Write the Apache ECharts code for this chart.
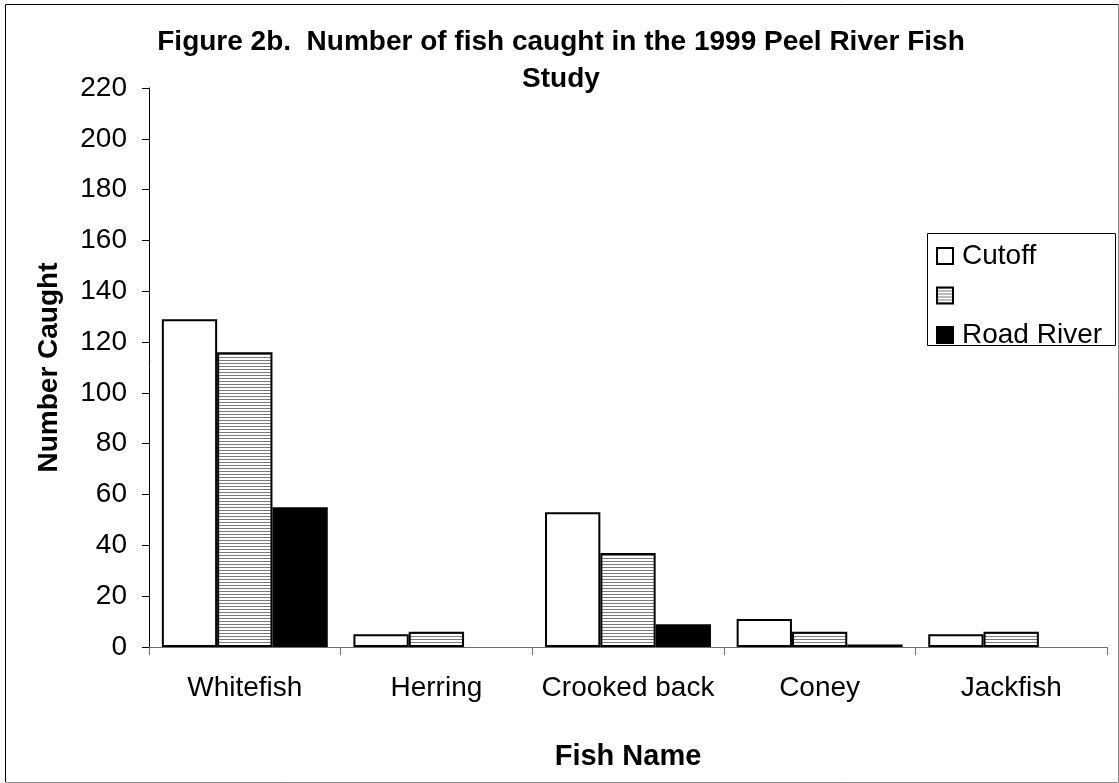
<!DOCTYPE html>
<html>
<head>
<meta charset="utf-8">
<script src="https://cdn.jsdelivr.net/npm/echarts@6/dist/echarts.min.js"></script>
<style>
  html, body { margin: 0; padding: 0; background: #fff; }
  #chart { width: 1119px; height: 783px; }
</style>
</head>
<body>
<div id="chart"></div>
<script>
// Fish caught per species at each sampling site, 1999 Peel River study
const categories = ['Whitefish', 'Herring', 'Crooked back', 'Coney', 'Jackfish'];
const cutoff = [129, 5, 53, 11, 5];
const secondSite = [116, 6, 37, 6, 6];
const roadRiver = [55, 0, 9, 1, 0];

const yMin = 0;
const yMax = 220;
const yStep = 20;

const FONT = '"Liberation Sans", Arial, sans-serif';

// horizontal line hatch used for the unlabelled site
function hatch() {
  const c = document.createElement('canvas');
  c.width = 4; c.height = 3;
  const g = c.getContext('2d');
  g.fillStyle = '#ffffff';
  g.fillRect(0, 0, 4, 3);
  g.fillStyle = '#7a7a7a';
  g.fillRect(0, 0, 4, 1);
  return c;
}

// empty counts get no outline so nothing is drawn on the baseline
function withOutline(values) {
  return values.map(v => v === 0 ? { value: v, itemStyle: { borderWidth: 0 } } : v);
}

const chart = echarts.init(document.getElementById('chart'), null, { renderer: 'canvas' });

const barBase = { type: 'bar', barGap: '0%', barCategoryGap: '13.4%' };

chart.setOption({
  animation: false,
  backgroundColor: '#ffffff',
  title: {
    text: 'Figure 2b.  Number of fish caught in the 1999 Peel River Fish\nStudy',
    left: 561, top: 24, textAlign: 'center', padding: 0,
    textStyle: { fontFamily: FONT, fontSize: 28, fontWeight: 'bold', color: '#000', lineHeight: 37 }
  },
  grid: { left: 149, right: 12, top: 88, bottom: 136, containLabel: false },
  legend: {
    orient: 'vertical', left: 936, top: 242, padding: 0,
    itemWidth: 16, itemHeight: 16, itemGap: 11.5,
    icon: 'rect',
    textStyle: { fontFamily: FONT, fontSize: 28, color: '#000', padding: [0, 0, 0, 4] },
    data: ['Cutoff', ' ', 'Road River']
  },
  xAxis: {
    type: 'category', data: categories,
    name: 'Fish Name', nameLocation: 'middle', nameGap: 95,
    nameTextStyle: { fontFamily: FONT, fontSize: 29, fontWeight: 'bold', color: '#000' },
    axisLine: { lineStyle: { color: '#6e6e6e', width: 1 } },
    axisTick: { show: true, inside: false, length: 8, alignWithLabel: false, lineStyle: { color: '#6e6e6e' } },
    axisLabel: { fontFamily: FONT, fontSize: 28, color: '#000', margin: 27, interval: 0 },
    splitLine: { show: false }
  },
  yAxis: {
    type: 'value', min: yMin, max: yMax, interval: yStep,
    name: 'Number Caught', nameLocation: 'middle', nameGap: 86, nameRotate: 90,
    nameTextStyle: { fontFamily: FONT, fontSize: 28, fontWeight: 'bold', color: '#000' },
    axisLine: { show: true, lineStyle: { color: '#000', width: 1 } },
    axisTick: { show: true, inside: false, length: 7, lineStyle: { color: '#000' } },
    axisLabel: { fontFamily: FONT, fontSize: 28, color: '#000', margin: 22 },
    splitLine: { show: false }
  },
  series: [
    Object.assign({}, barBase, {
      name: 'Cutoff', data: withOutline(cutoff),
      itemStyle: { color: '#ffffff', borderColor: '#000', borderWidth: 2 }
    }),
    Object.assign({}, barBase, {
      name: ' ', data: withOutline(secondSite),
      itemStyle: { color: { image: hatch(), repeat: 'repeat' }, borderColor: '#000', borderWidth: 2 }
    }),
    Object.assign({}, barBase, {
      name: 'Road River', data: withOutline(roadRiver),
      itemStyle: { color: '#000', borderColor: '#000', borderWidth: 2 }
    })
  ],
  graphic: [
    // legend frame
    { type: 'rect', z: 0, silent: true,
      shape: { x: 927.5, y: 233.5, width: 188, height: 112 },
      style: { fill: '#fff', stroke: '#000', lineWidth: 1 } },
    // outer chart frame
    { type: 'polyline', silent: true,
      shape: { points: [[5.5, 782], [5.5, 4.5], [1118.5, 4.5]] },
      style: { fill: null, stroke: '#000', lineWidth: 1 } },
    { type: 'polyline', silent: true,
      shape: { points: [[1118.5, 4.5], [1118.5, 782.5], [5.5, 782.5]] },
      style: { fill: null, stroke: '#8a8a8a', lineWidth: 1 } }
  ]
});
</script>
</body>
</html>
